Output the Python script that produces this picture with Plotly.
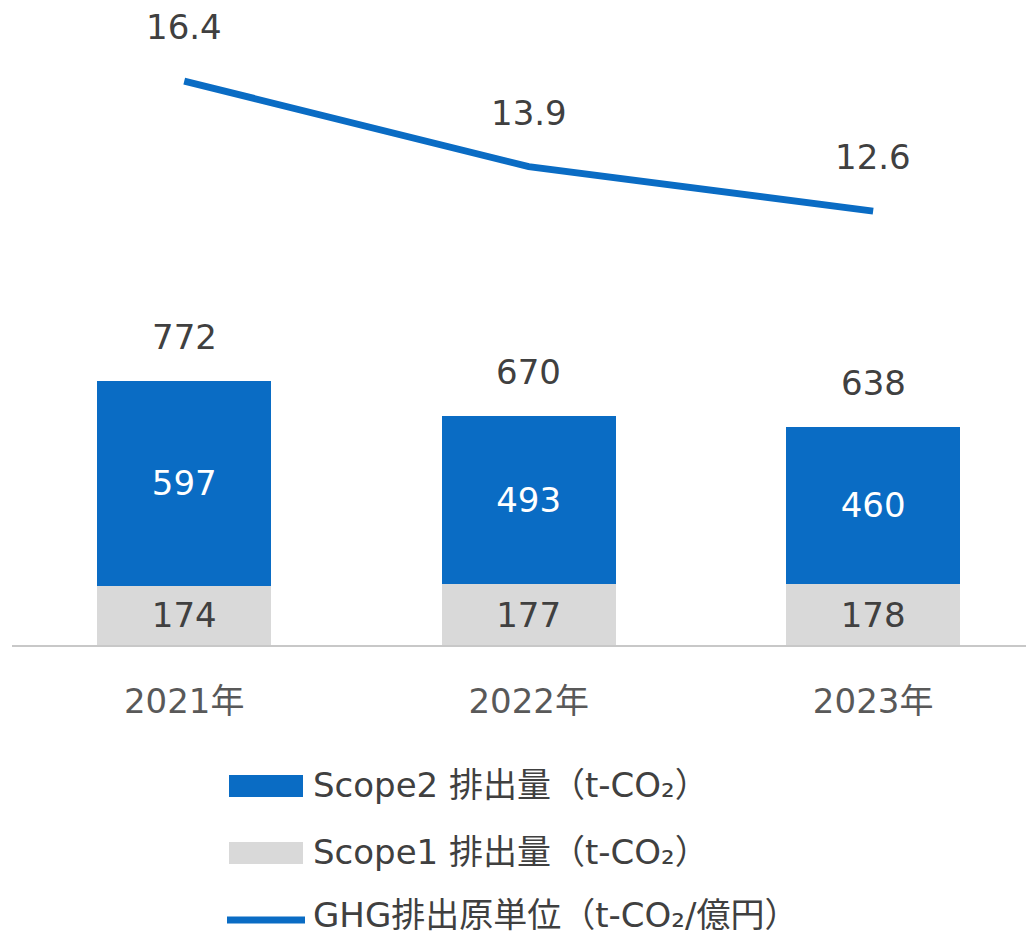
import plotly.graph_objects as go

years = ["2021年", "2022年", "2023年"]
scope1 = [174, 177, 178]
scope2 = [597, 493, 460]
totals = [772, 670, 638]
intensity = [16.4, 13.9, 12.6]
legend_names = ["Scope2 排出量（t-CO₂）", "Scope1 排出量（t-CO₂）", "GHG排出原単位（t-CO₂/億円）"]

BLUE = "#0A6CC4"
GRAY = "#D9D9D9"
TXT = "#404040"
FONT = "DejaVu Sans, Noto Sans CJK JP, sans-serif"
FS = 34

OFF = 8  # page body margin
W, H = 1034 - OFF, 937 - OFF
L, T = 12 - OFF, 0
PLOT_H = 645 - OFF
B = H - PLOT_H
PLOT_W = W - L


def px_x(px):
    return (px - OFF - L) / PLOT_W


def px_y(py):
    return (PLOT_H - (py - OFF)) / PLOT_H


fig = go.Figure()
fig.add_trace(go.Bar(
    x=years, y=scope1, name=legend_names[1], marker=dict(color=GRAY, line=dict(width=0)),
    text=[str(v) for v in scope1], textposition="inside", insidetextanchor="middle",
    textfont=dict(color=TXT, size=FS, family=FONT), width=0.505,
))
fig.add_trace(go.Bar(
    x=years, y=scope2, name=legend_names[0], marker=dict(color=BLUE, line=dict(width=0)),
    text=[str(v) for v in scope2], textposition="inside", insidetextanchor="middle",
    textfont=dict(color="white", size=FS, family=FONT), width=0.505,
))
fig.add_trace(go.Scatter(
    x=years, y=intensity, name=legend_names[2], yaxis="y2", mode="lines",
    line=dict(color=BLUE, width=7), cliponaxis=False,
))

for x, t in zip(years, totals):
    fig.add_annotation(x=x, y=t, yref="y", text=str(t), showarrow=False, yshift=44,
                       font=dict(color=TXT, size=FS, family=FONT))
for x, v in zip(years, intensity):
    fig.add_annotation(x=x, y=v, yref="y2", text=f"{v:.1f}", showarrow=False, yshift=54,
                       font=dict(color=TXT, size=FS, family=FONT))

# manual legend
leg_rows = [785, 852, 915]
fig.add_shape(type="rect", xref="paper", yref="paper", x0=px_x(229), x1=px_x(303),
              y0=px_y(775), y1=px_y(797), fillcolor=BLUE, line=dict(width=0))
fig.add_shape(type="rect", xref="paper", yref="paper", x0=px_x(229), x1=px_x(303),
              y0=px_y(842), y1=px_y(864), fillcolor=GRAY, line=dict(width=0))
fig.add_shape(type="line", xref="paper", yref="paper", x0=px_x(227), x1=px_x(305),
              y0=px_y(920), y1=px_y(920), line=dict(color=BLUE, width=7))
for name, py in zip(legend_names, leg_rows):
    fig.add_annotation(xref="paper", yref="paper", x=px_x(311), y=px_y(py), text=name,
                       showarrow=False, xanchor="left", yanchor="middle",
                       font=dict(color=TXT, size=FS, family=FONT))

fig.update_layout(
    width=W, height=H, barmode="stack", showlegend=False,
    margin=dict(l=L, r=0, t=T, b=B),
    plot_bgcolor="white", paper_bgcolor="white",
    font=dict(family=FONT, color=TXT, size=FS),
    xaxis=dict(range=[-0.5, 2.467], showline=True, linecolor="#C8C8C8", linewidth=2,
               showgrid=False, ticks="", ticklabelstandoff=25,
               tickfont=dict(color="#595959", size=FS, family=FONT)),
    yaxis=dict(range=[0, 1863], visible=False, showgrid=False),
    yaxis2=dict(range=[-0.09, 18.54], overlaying="y", visible=False, showgrid=False),
)

fig.write_html("out.html")
